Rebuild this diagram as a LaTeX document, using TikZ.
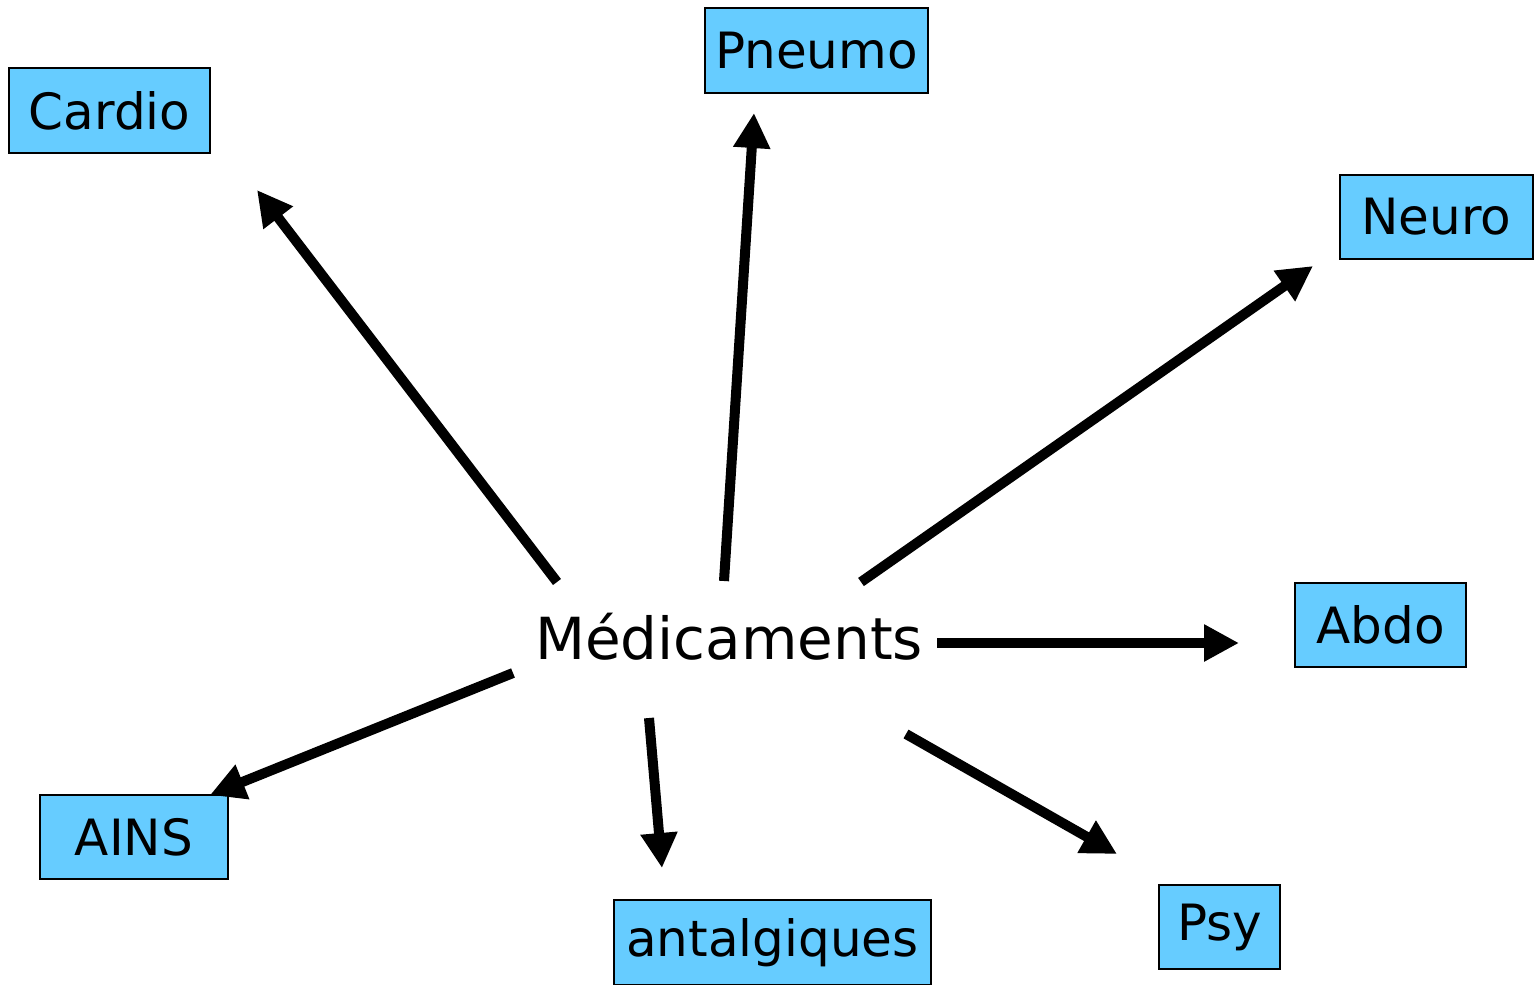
\documentclass[tikz,border=0pt]{standalone}
\usepackage{fontspec}
\setmainfont{DejaVu Sans}
\usetikzlibrary{arrows.meta}
\definecolor{boxblue}{HTML}{66CCFF}
\begin{document}
\begin{tikzpicture}[x=1pt,y=-1pt,
  cat/.style={draw=black,line width=1.5pt,fill=boxblue,inner sep=0pt,
    font=\fontsize{50}{60}\selectfont,anchor=center},
  bigarrow/.style={line width=10pt,-{Triangle[length=35pt,width=35pt]}}]
\useasboundingbox (0,0) rectangle (1534,985);
\node[cat,minimum width=201pt,minimum height=85pt] (cardio) at (109.5,110.5) {Cardio};
\node[cat,minimum width=223pt,minimum height=85pt] (pneumo) at (816.5,50.5) {Pneumo};
\node[cat,minimum width=193pt,minimum height=84pt] (neuro) at (1436.5,217) {Neuro};
\node[cat,minimum width=171pt,minimum height=84pt] (abdo) at (1380.5,625) {Abdo};
\node[cat,minimum width=121pt,minimum height=84pt] (psy) at (1219.5,927) {Psy};
\node[cat,minimum width=317pt,minimum height=85pt] (antal) at (772.5,942.5) {antalgiques};
\node[cat,minimum width=188pt,minimum height=84pt] (ains) at (134,837) {AINS};
\node[font=\fontsize{58}{66}\selectfont,inner sep=0pt] (med) at (729,637) {Médicaments};
% arrow end points
\coordinate (sC) at (557,582); \coordinate (eC) at (257,190);
\coordinate (sP) at (724,581); \coordinate (eP) at (754,113);
\coordinate (sN) at (861,582); \coordinate (eN) at (1313,266);
\coordinate (sA) at (937,643); \coordinate (eA) at (1239,643);
\coordinate (sY) at (906,734); \coordinate (eY) at (1117,854);
\coordinate (sT) at (649,718); \coordinate (eT) at (662,868);
\coordinate (sI) at (513,673); \coordinate (eI) at (210,795);
\draw[bigarrow] (sC) -- (eC);
\draw[bigarrow] (sP) -- (eP);
\draw[bigarrow] (sN) -- (eN);
\draw[bigarrow] (sA) -- (eA);
\draw[bigarrow] (sY) -- (eY);
\draw[bigarrow] (sT) -- (eT);
\draw[bigarrow] (sI) -- (eI);
\end{tikzpicture}
\end{document}
